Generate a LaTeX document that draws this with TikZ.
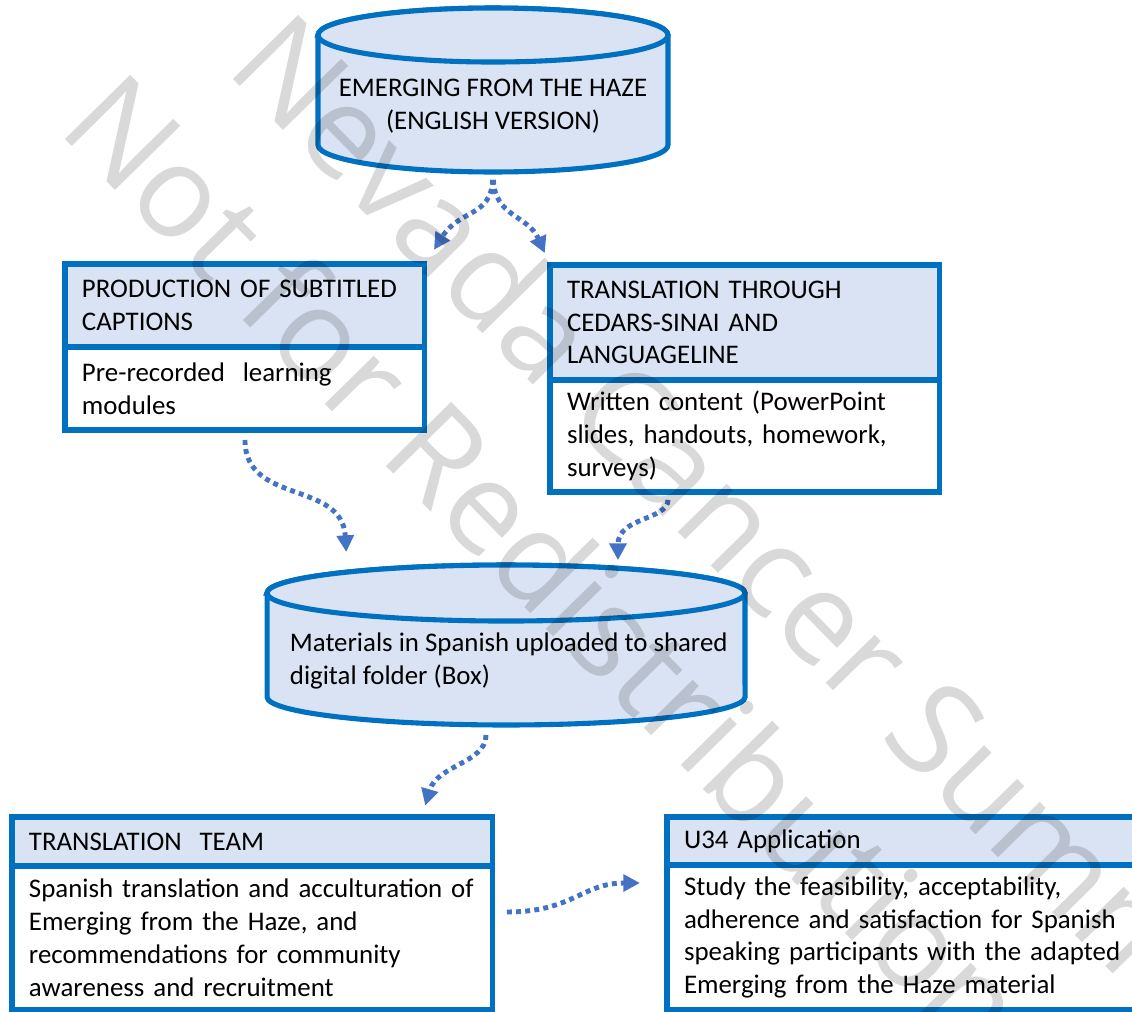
\documentclass[tikz,border=0pt]{standalone}
\usepackage{fontspec}
\setmainfont{Carlito}
\newfontfamily\wmfont{Open Sans}
\usetikzlibrary{positioning,calc,arrows.meta,backgrounds}
\definecolor{boxblue}{HTML}{0070C0}
\definecolor{headblue}{HTML}{DAE3F3}
\definecolor{flowblue}{HTML}{4472C4}
% drum outline round a node: #1 node, #2 x radius, #3 y radius
\newcommand\drumshape[3]{%
  \path[drum] ($(#1.north west)+(0,-#3)$) -- ($(#1.south west)+(0,#3)$)
    arc[start angle=180,end angle=360,x radius=#2,y radius=#3]
    -- ($(#1.north east)+(0,-#3)$)
    arc[start angle=0,end angle=180,x radius=#2,y radius=#3] -- cycle;
  \draw[drum] ($(#1.north)+(0,-#3)$) ellipse[x radius=#2,y radius=#3];}

\begin{document}
\begin{tikzpicture}[x=0.02cm,y=0.02cm,
  every node/.style={font=\fontsize{15.3}{18.7}\selectfont,outer sep=0pt},
  drum/.style={draw=boxblue,line width=2.9pt,fill=headblue},
  capbox/.style={draw=boxblue,line width=2.9pt,fill=headblue,align=left,
    inner xsep=0.34cm,inner ysep=0pt,anchor=north west},
  bodybox/.style={capbox,fill=white},
  flow/.style={draw=flowblue,line width=2.8pt,dash pattern=on 2.8pt off 2.4pt,
    -{Triangle[length=9.5pt,width=9.5pt]}},
  wm/.style={font=\wmfont\fontsize{73}{86}\selectfont,text=black,
    text opacity=0.15,inner sep=0pt,anchor=base west,rotate=-45.5}]
\useasboundingbox (0,0) rectangle (1132,-1011);

% the two drums
\node[minimum width=7cm,minimum height=3.28cm,
  label={[align=center,yshift=-0.32cm]center:EMERGING FROM THE HAZE\\(ENGLISH VERSION)}]
  (eng) at (493,-90) {};
\node[minimum width=9.56cm,minimum height=3.2cm,
  label={[align=left,anchor=west,xshift=0.34cm,yshift=-0.32cm]west:Materials in Spanish uploaded to shared\\digital folder (Box)}]
  (box) at (506,-645) {};
\begin{pgfonlayer}{background}
\drumshape{eng}{175}{27}
\drumshape{box}{239}{28}
\end{pgfonlayer}

% boxes with a title part
\node[capbox,text width=6.52cm,minimum height=1.66cm] (subh) at (65,-264)
  {PRODUCTION OF SUBTITLED\\CAPTIONS};
\node[bodybox,text width=6.52cm,minimum height=1.66cm,below=0pt of subh] (subb)
  {Pre-recorded\ \ learning\\modules};
\node[capbox,text width=7.12cm,minimum height=2.3cm] (lgh) at (550,-265)
  {TRANSLATION THROUGH\\CEDARS-SINAI AND\\LANGUAGELINE};
\node[bodybox,text width=7.12cm,minimum height=2.24cm,below=0pt of lgh] (lgb)
  {Written content (PowerPoint\\slides, handouts, homework,\\surveys)};
\node[capbox,text width=8.94cm,minimum height=0.98cm] (teamh) at (12,-817)
  {TRANSLATION\ \ TEAM};
\node[bodybox,text width=8.94cm,minimum height=2.88cm,below=0pt of teamh] (teamb)
  {Spanish translation and acculturation of\\Emerging from the Haze, and\\recommendations for community\\awareness and recruitment};
\node[capbox,text width=8.92cm,minimum height=0.96cm] (u34h) at (667,-817)
  {U34 Application};
\node[bodybox,text width=8.92cm,minimum height=2.9cm,below=0pt of u34h] (u34b)
  {Study the feasibility, acceptability,\\adherence and satisfaction for Spanish\\speaking participants with the adapted\\Emerging from the Haze material};

% dotted flows
\draw[flow,shorten <=4.5pt,shorten >=9.6pt] (eng.south) .. controls +(-2,-45) and +(35,55) .. (subh.north east);
\draw[flow,shorten <=4.5pt,shorten >=7.4pt] (eng.south) .. controls +(2,-45) and +(-22,50) .. (lgh.north west);
\draw[flow,shorten <=5.7pt,shorten >=7.4pt] (subb.south) .. controls +(0,-75) and +(-5,85) .. ([xshift=-3.18cm]box.north);
\draw[flow,shorten <=4.5pt,shorten >=2.8pt] ([xshift=-1.54cm]lgb.south) .. controls +(0,-28) and +(0,48) .. ([xshift=2.24cm]box.north);
\draw[flow,shorten <=5.7pt,shorten >=6.8pt] ([xshift=-0.4cm]box.south) .. controls +(0,-38) and +(15,52) .. ([xshift=-1.42cm]teamh.north east);
\draw[flow,shorten <=8pt,shorten >=15.4pt] ([yshift=0.52cm]teamb.east) .. controls +(80,0) and +(-85,0) .. ([yshift=1.09cm]u34b.west);

% watermark
\node[wm] (wmone) at (56,-130) {Not for Redistribution};
\node[wm] (wmtwo) at (224,-70) {Nevada Cancer Summit};
\end{tikzpicture}
\end{document}
